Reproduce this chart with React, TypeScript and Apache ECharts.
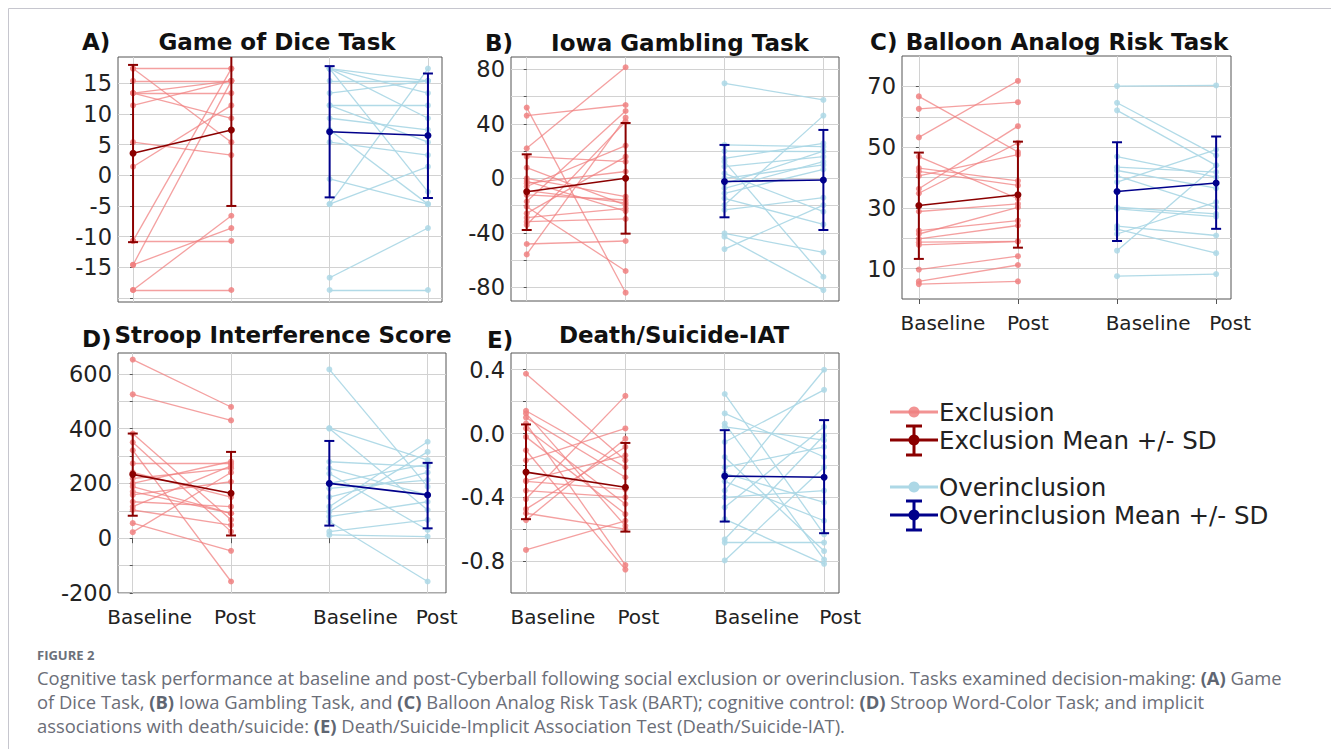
import React, { useEffect, useRef } from 'react';
import * as echarts from 'echarts';

// ---------- text ----------
const TIME_LABELS = ['Baseline', 'Post', 'Baseline', 'Post'];
const LEGEND_LABELS = ['Exclusion', 'Exclusion Mean +/- SD', 'Overinclusion', 'Overinclusion Mean +/- SD'];
const PANEL_TITLES = ['Game of Dice Task', 'Iowa Gambling Task', 'Balloon Analog Risk Task', 'Stroop Interference Score', 'Death/Suicide-IAT'];
const PANEL_LETTERS = ['A)', 'B)', 'C)', 'D)', 'E)'];
const FIGURE_LABEL = 'FIGURE 2';
const CAPTION_LINES = [
  'Cognitive task performance at baseline and post-Cyberball following social exclusion or overinclusion. Tasks examined decision-making: {b|(A)} Game',
  'of Dice Task, {b|(B)} Iowa Gambling Task, and {b|(C)} Balloon Analog Risk Task (BART); cognitive control: {b|(D)} Stroop Word-Color Task; and implicit',
  'associations with death/suicide: {b|(E)} Death/Suicide-Implicit Association Test (Death/Suicide-IAT).',
];

// ---------- A) Game of Dice Task ----------
const A_EXCL_BASE = [17.4, 17.4, 15.4, 13.4, 13.4, 13.4, 11.4, 5.4, 1.4, -10.7, -10.7, -14.6, -14.6, -18.7, -18.7];
const A_EXCL_POST = [17.4, 5.4, 15.4, 13.4, 9.3, 15.4, 15.4, 3.3, 11.4, -10.7, 17.4, 15.4, -8.6, -6.6, -18.7];
const A_OVER_BASE = [17.4, 17.4, 17.4, 17.4, 15.4, 13.4, 11.4, 11.4, 9.3, 7.4, 5.4, -0.6, -4.7, -4.7, -16.7, -18.7];
const A_OVER_POST = [15.4, 13.4, 9.3, -2.7, 15.4, 15.4, 11.4, 5.4, 7.4, -4.7, 3.3, -4.7, 17.4, 1.4, -8.6, -18.7];
const A_MEANS = [3.6, 7.4, 7.1, 6.5];
const A_SD_LOW = [-10.9, -5.0, -3.6, -3.7];
const A_SD_HIGH = [18.0, 19.8, 17.8, 16.6];
const A_Y_TICKS = [-20, -15, -10, -5, 0, 5, 10, 15];
const A_Y_LABELS = [-15, -10, -5, 0, 5, 10, 15];

// ---------- B) Iowa Gambling Task ----------
const B_EXCL_BASE = [51.9, 46.0, 22.0, 15.9, 7.8, 0.0, -3.7, -6.0, -12.2, -17.0, -20.8, -25.7, -28.9, -31.8, -34.2, -48.2, -55.8, -9.0, -2.0];
const B_EXCL_POST = [-83.9, 53.8, 81.5, 12.2, -19.6, -13.5, 5.0, 24.0, -15.9, 49.4, -68.0, 15.9, -22.0, -29.8, 41.6, -46.0, 44.5, -18.0, -24.0];
const B_OVER_BASE = [69.7, 24.5, 20.0, 14.7, 12.2, 8.6, 3.7, 0.0, -7.3, -11.0, -14.7, -19.6, -23.2, -40.4, -42.8, -51.9, -4.0];
const B_OVER_POST = [57.5, 23.2, 19.6, 25.7, -72.2, 15.9, -24.5, 9.8, 12.2, 6.6, -33.8, 46.0, -14.2, -54.3, -82.0, -19.6, 20.0];
const B_MEANS = [-9.8, 0.0, -2.3, -1.2];
const B_SD_LOW = [-37.9, -40.6, -28.6, -37.9];
const B_SD_HIGH = [17.6, 40.6, 24.5, 35.5];
const B_Y_TICKS = [-80, -60, -40, -20, 0, 20, 40, 60, 80];
const B_Y_LABELS = [-80, -40, 0, 40, 80];

// ---------- C) Balloon Analog Risk Task ----------
const C_EXCL_BASE = [66.7, 62.6, 53.2, 46.9, 43.1, 42.0, 36.3, 34.8, 28.8, 22.5, 21.4, 19.8, 18.7, 17.8, 9.7, 5.8, 4.9, 40.5];
const C_EXCL_POST = [48.4, 64.8, 71.8, 33.0, 38.9, 37.4, 56.9, 51.4, 31.3, 25.8, 30.2, 24.2, 19.0, 18.9, 14.1, 11.2, 5.8, 47.5];
const C_OVER_BASE = [70.1, 64.6, 62.1, 46.9, 43.4, 42.3, 38.5, 30.2, 29.7, 24.0, 21.4, 15.9, 7.5, 23.0, 40.5];
const C_OVER_POST = [70.3, 47.3, 44.0, 40.1, 41.8, 36.5, 49.2, 28.0, 27.1, 20.9, 31.9, 44.0, 8.2, 15.1, 30.2];
const C_MEANS = [30.8, 34.3, 35.4, 38.2];
const C_SD_LOW = [13.2, 16.9, 19.1, 23.1];
const C_SD_HIGH = [48.2, 51.8, 51.6, 53.5];
const C_Y_TICKS = [10, 20, 30, 40, 50, 60, 70];
const C_Y_LABELS = [10, 30, 50, 70];

// ---------- D) Stroop Interference Score ----------
const D_EXCL_BASE = [652, 525, 382, 321, 273, 218, 188, 158, 133, 115, 103, 55, 22, 350, 240, 200, 170];
const D_EXCL_POST = [479, 430, 67, -158, 273, 255, 91, 206, 115, 264, 48, -46, 240, 24, 150, 280, 91];
const D_OVER_BASE = [616, 402, 400, 279, 255, 236, 182, 115, 97, 79, 61, 24, 12, 200, 150];
const D_OVER_POST = [188, 285, 103, 261, 158, 30, 212, 352, 315, 133, -158, 67, 6, 270, 240];
const D_MEANS = [233, 164, 200, 158];
const D_SD_LOW = [82, 10, 46, 36];
const D_SD_HIGH = [382, 315, 355, 275];
const D_Y_TICKS = [-200, -100, 0, 100, 200, 300, 400, 500, 600];
const D_Y_LABELS = [-200, 0, 200, 400, 600];

// ---------- E) Death/Suicide-IAT ----------
const E_EXCL_BASE = [0.375, 0.143, 0.126, 0.1, 0.063, 0.032, -0.021, -0.105, -0.168, -0.295, -0.358, -0.411, -0.474, -0.543, -0.73, -0.5, -0.3];
const E_EXCL_POST = [-0.168, -0.211, -0.579, -0.274, -0.825, -0.442, -0.505, -0.853, 0.032, -0.137, -0.4, 0.236, -0.084, -0.032, -0.547, -0.6, -0.35];
const E_OVER_BASE = [0.248, 0.126, 0.063, 0.042, -0.053, -0.147, -0.211, -0.358, -0.4, -0.463, -0.537, -0.663, -0.684, -0.796, -0.3, -0.25];
const E_OVER_POST = [-0.632, -0.147, -0.79, -0.042, 0.274, -0.737, -0.084, 0.4, -0.358, 0.042, -0.817, -0.011, -0.684, -0.211, -0.547, -0.432];
const E_MEANS = [-0.242, -0.337, -0.267, -0.274];
const E_SD_LOW = [-0.537, -0.615, -0.552, -0.625];
const E_SD_HIGH = [0.057, -0.059, 0.021, 0.084];
const E_Y_TICKS = [-0.8, -0.6, -0.4, -0.2, 0, 0.2, 0.4];
const E_Y_LABELS = [-0.8, -0.4, 0, 0.4];

const PANEL_DATA = [
  { eb: A_EXCL_BASE, ep: A_EXCL_POST, ob: A_OVER_BASE, op: A_OVER_POST, m: A_MEANS, lo: A_SD_LOW, hi: A_SD_HIGH, yt: A_Y_TICKS, yl: A_Y_LABELS },
  { eb: B_EXCL_BASE, ep: B_EXCL_POST, ob: B_OVER_BASE, op: B_OVER_POST, m: B_MEANS, lo: B_SD_LOW, hi: B_SD_HIGH, yt: B_Y_TICKS, yl: B_Y_LABELS },
  { eb: C_EXCL_BASE, ep: C_EXCL_POST, ob: C_OVER_BASE, op: C_OVER_POST, m: C_MEANS, lo: C_SD_LOW, hi: C_SD_HIGH, yt: C_Y_TICKS, yl: C_Y_LABELS },
  { eb: D_EXCL_BASE, ep: D_EXCL_POST, ob: D_OVER_BASE, op: D_OVER_POST, m: D_MEANS, lo: D_SD_LOW, hi: D_SD_HIGH, yt: D_Y_TICKS, yl: D_Y_LABELS },
  { eb: E_EXCL_BASE, ep: E_EXCL_POST, ob: E_OVER_BASE, op: E_OVER_POST, m: E_MEANS, lo: E_SD_LOW, hi: E_SD_HIGH, yt: E_Y_TICKS, yl: E_Y_LABELS },
];

// ---------- layout / style ----------
const LAYOUT = [
  { grid: { left: 118, top: 57, width: 324, height: 245 }, x: [-0.153, 3.143], y: [-20.66, 19.29], letter: [82, 42], title: [277, 42], shift: null, dec: 0 },
  { grid: { left: 511, top: 57, width: 328, height: 244 }, x: [-0.159, 3.158], y: [-90, 89], letter: [485, 43], title: [680, 43], shift: null, dec: 0 },
  { grid: { left: 902, top: 56, width: 329, height: 243 }, x: [-0.17, 3.15], y: [0, 80], letter: [870, 42], title: [1067, 42], shift: [24, 10, 31, 14], dec: 0 },
  { grid: { left: 118, top: 353, width: 328, height: 240 }, x: [-0.15, 3.187], y: [-200, 676], letter: [82, 339], title: [283, 335], shift: [17, 4, 26, 9], dec: 0 },
  { grid: { left: 511, top: 353, width: 328, height: 240 }, x: [-0.151, 3.15], y: [-1.0, 0.505], letter: [487, 340], title: [674, 335], shift: [27, 13, 32, 16], dec: 1 },
];

const EXCL_LIGHT = '#F08080';
const EXCL_DARK = '#8B0000';
const OVER_LIGHT = '#ADD8E6';
const OVER_DARK = '#00008B';
const FONT = 'DejaVu Sans';
const FRAME = '#555555';
const GRIDLINE = '#d2d2d2';

function errRender(color: string) {
  return (params: any, api: any) => {
    const x = api.value(0);
    const pLo = api.coord([x, api.value(1)]);
    const pHi = api.coord([x, api.value(2)]);
    const hw = 5;
    const style = { stroke: color, lineWidth: 2 };
    return {
      type: 'group',
      children: [
        { type: 'line', shape: { x1: pLo[0], y1: pLo[1], x2: pHi[0], y2: pHi[1] }, style },
        { type: 'line', shape: { x1: pLo[0] - hw, y1: pLo[1], x2: pLo[0] + hw, y2: pLo[1] }, style },
        { type: 'line', shape: { x1: pHi[0] - hw, y1: pHi[1], x2: pHi[0] + hw, y2: pHi[1] }, style },
      ],
    };
  };
}

function buildOption() {
  const grids: any[] = [];
  const xAxes: any[] = [];
  const yAxes: any[] = [];
  const series: any[] = [];
  const graphics: any[] = [];

  PANEL_DATA.forEach((d, i) => {
    const L = LAYOUT[i];
    grids.push({ ...L.grid, show: true, borderColor: FRAME, borderWidth: 1, backgroundColor: '#fff', containLabel: false, outerBoundsMode: 'none' });

    const rich: any = {};
    if (L.shift) {
      L.shift.forEach((s, k) => {
        rich['l' + k] = { padding: [0, 0, 0, 2 * s], fontSize: 20, fontFamily: FONT, color: '#222' };
      });
    }
    xAxes.push({
      type: 'value', gridIndex: i, min: L.x[0], max: L.x[1],
      axisLine: { show: false },
      axisTick: { show: true, length: 5, customValues: [0, 1, 2, 3], lineStyle: { color: FRAME } },
      axisLabel: {
        show: !!L.shift, customValues: [0, 1, 2, 3], margin: 14, fontSize: 20, fontFamily: FONT, color: '#222',
        formatter: (v: number) => {
          const k = Math.round(v);
          return '{l' + k + '|' + TIME_LABELS[k] + '}';
        },
        rich,
      },
      splitLine: { show: true, lineStyle: { color: GRIDLINE, width: 1 } },
    });
    yAxes.push({
      type: 'value', gridIndex: i, min: L.y[0], max: L.y[1],
      axisLine: { show: false },
      axisTick: { show: true, length: 3, customValues: d.yt, lineStyle: { color: FRAME } },
      axisLabel: {
        customValues: d.yl, margin: 6, fontSize: 22.5, fontFamily: FONT, color: '#222',
        formatter: (v: number) => (L.dec ? v.toFixed(L.dec) : String(Math.round(v))),
      },
      splitLine: { show: true, lineStyle: { color: GRIDLINE, width: 1 } },
    });

    const groups = [
      { base: d.eb, post: d.ep, x0: 0, light: EXCL_LIGHT, dark: EXCL_DARK, mi: 0, lop: 0.75 },
      { base: d.ob, post: d.op, x0: 2, light: OVER_LIGHT, dark: OVER_DARK, mi: 2, lop: 0.95 },
    ];
    groups.forEach((g) => {
      series.push({
        type: 'lines', coordinateSystem: 'cartesian2d', xAxisIndex: i, yAxisIndex: i, silent: true, z: 2,
        lineStyle: { color: g.light, width: 1.3, opacity: g.lop },
        data: g.base.map((b, k) => ({ coords: [[g.x0, b], [g.x0 + 1, g.post[k]]] })),
      });
      series.push({
        type: 'scatter', xAxisIndex: i, yAxisIndex: i, silent: true, z: 3, symbolSize: 6,
        itemStyle: { color: g.light, opacity: 0.85 },
        data: [...g.base.map((v) => [g.x0, v]), ...g.post.map((v) => [g.x0 + 1, v])],
      });
      series.push({
        type: 'custom', xAxisIndex: i, yAxisIndex: i, z: 5, clip: true, silent: true,
        renderItem: errRender(g.dark),
        encode: { x: 0, y: [1, 2] },
        data: [
          [g.x0, d.lo[g.mi], d.hi[g.mi]],
          [g.x0 + 1, d.lo[g.mi + 1], d.hi[g.mi + 1]],
        ],
      });
      series.push({
        type: 'line', xAxisIndex: i, yAxisIndex: i, z: 6, silent: true, symbol: 'circle', symbolSize: 7, showSymbol: true,
        lineStyle: { color: g.dark, width: 1.6 }, itemStyle: { color: g.dark },
        data: [[g.x0, d.m[g.mi]], [g.x0 + 1, d.m[g.mi + 1]]],
      });
    });

    graphics.push({
      type: 'text', x: L.letter[0], y: L.letter[1],
      style: { text: PANEL_LETTERS[i], fill: '#111', fontSize: 23, fontWeight: 'bold', fontFamily: FONT, align: 'left', verticalAlign: 'middle' },
    });
    graphics.push({
      type: 'text', x: L.title[0], y: L.title[1],
      style: { text: PANEL_TITLES[i], fill: '#111', fontSize: 23, fontWeight: 'bold', fontFamily: FONT, align: 'center', verticalAlign: 'middle' },
    });
  });

  // legend
  const rows = [
    { y: 412, color: EXCL_LIGHT, err: false, op: 0.85 },
    { y: 440, color: EXCL_DARK, err: true, op: 1 },
    { y: 487, color: OVER_LIGHT, err: false, op: 1 },
    { y: 515, color: OVER_DARK, err: true, op: 1 },
  ];
  rows.forEach((r, k) => {
    graphics.push({ type: 'line', shape: { x1: 890, y1: r.y, x2: 938, y2: r.y }, style: { stroke: r.color, lineWidth: 3, opacity: r.op } });
    if (r.err) {
      graphics.push({ type: 'line', shape: { x1: 914, y1: r.y - 14, x2: 914, y2: r.y + 15 }, style: { stroke: r.color, lineWidth: 3 } });
      graphics.push({ type: 'line', shape: { x1: 906, y1: r.y - 14, x2: 922, y2: r.y - 14 }, style: { stroke: r.color, lineWidth: 3 } });
      graphics.push({ type: 'line', shape: { x1: 906, y1: r.y + 15, x2: 922, y2: r.y + 15 }, style: { stroke: r.color, lineWidth: 3 } });
    }
    graphics.push({ type: 'circle', shape: { cx: 914, cy: r.y, r: 5.5 }, style: { fill: r.color, opacity: r.op } });
    graphics.push({
      type: 'text', x: 939, y: r.y,
      style: { text: LEGEND_LABELS[k], fill: '#222', fontSize: 24.5, fontFamily: FONT, align: 'left', verticalAlign: 'middle' },
    });
  });

  // frame lines of the figure card
  graphics.push({ type: 'line', shape: { x1: 8.5, y1: 8.5, x2: 8.5, y2: 749 }, style: { stroke: '#c6c6ce', lineWidth: 1 } });
  graphics.push({ type: 'line', shape: { x1: 8.5, y1: 8.5, x2: 1331, y2: 8.5 }, style: { stroke: '#c6c6ce', lineWidth: 1 } });

  // caption
  graphics.push({
    type: 'text', x: 37, y: 655,
    style: { text: FIGURE_LABEL, fill: '#6b707a', fontSize: 13, fontWeight: 'bold', fontFamily: 'Open Sans', align: 'left', verticalAlign: 'middle' },
  });
  CAPTION_LINES.forEach((t, k) => {
    graphics.push({
      type: 'text', x: 37, y: 677 + k * 24,
      style: {
        text: t, fill: '#6b6e78', fontSize: 18.4, fontFamily: 'Open Sans', align: 'left', verticalAlign: 'middle',
        rich: { b: { fontWeight: 'bold', fontSize: 18.4, fontFamily: 'Open Sans', fill: '#5f6672' } },
      },
    });
  });

  return {
    animation: false,
    backgroundColor: '#ffffff',
    grid: grids,
    xAxis: xAxes,
    yAxis: yAxes,
    series,
    graphic: graphics,
  };
}

export default function App() {
  const ref = useRef<HTMLDivElement>(null);
  useEffect(() => {
    if (!ref.current) return;
    const chart = echarts.init(ref.current, null, { renderer: 'svg' });
    chart.setOption(buildOption() as any);
    return () => chart.dispose();
  }, []);
  return <div ref={ref} style={{ position: 'fixed', left: 0, top: 0, width: 1331, height: 749, background: '#fff' }} />;
}
